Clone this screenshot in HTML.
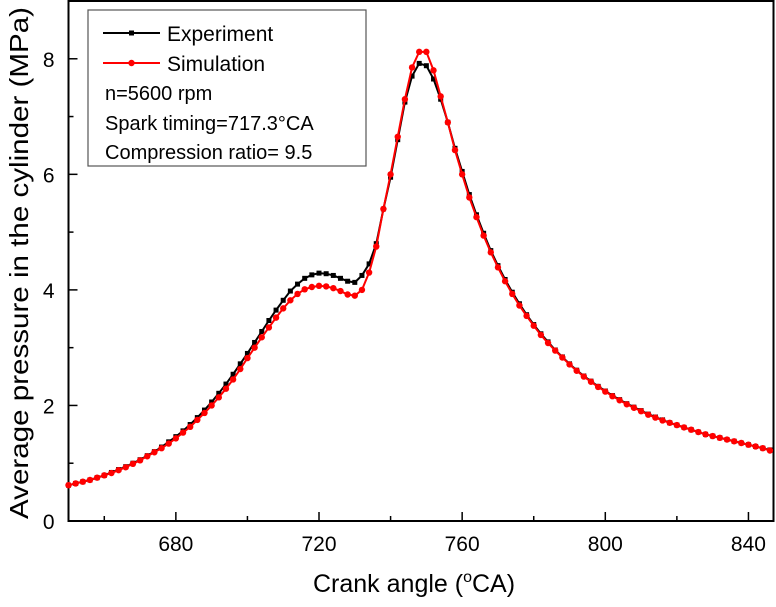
<!DOCTYPE html>
<html><head><meta charset="utf-8"><style>
html,body{margin:0;padding:0;background:#fff;}
svg text{font-family:"Liberation Sans",Arial,sans-serif;}
</style></head><body>
<svg id="chart" width="776" height="602" viewBox="0 0 776 602" xmlns="http://www.w3.org/2000/svg">
<g id="plot"></g>
</svg>
<script>
const angles = [650,652,654,656,658,660,662,664,666,668,670,672,674,676,678,680,682,684,686,688,690,692,694,696,698,700,702,704,706,708,710,712,714,716,718,720,722,724,726,728,730,732,734,736,738,740,742,744,746,748,750,752,754,756,758,760,762,764,766,768,770,772,774,776,778,780,782,784,786,788,790,792,794,796,798,800,802,804,806,808,810,812,814,816,818,820,822,824,826,828,830,832,834,836,838,840,842,844,846];
const experiment = [0.62,0.65,0.68,0.71,0.75,0.79,0.84,0.89,0.94,1.00,1.06,1.13,1.20,1.28,1.37,1.46,1.56,1.67,1.79,1.92,2.06,2.21,2.37,2.54,2.72,2.90,3.09,3.28,3.47,3.65,3.82,3.98,4.10,4.20,4.26,4.29,4.28,4.25,4.20,4.15,4.13,4.25,4.45,4.80,5.40,5.95,6.60,7.25,7.70,7.92,7.88,7.65,7.30,6.90,6.45,6.05,5.65,5.30,4.98,4.68,4.42,4.18,3.96,3.76,3.57,3.40,3.24,3.10,2.96,2.84,2.72,2.61,2.51,2.42,2.33,2.25,2.17,2.10,2.03,1.97,1.91,1.85,1.80,1.75,1.70,1.66,1.62,1.58,1.54,1.50,1.47,1.44,1.41,1.38,1.35,1.32,1.29,1.26,1.23];
const simulation = [0.62,0.65,0.68,0.71,0.75,0.79,0.83,0.88,0.93,0.99,1.05,1.12,1.19,1.26,1.34,1.43,1.53,1.63,1.75,1.87,2.00,2.14,2.29,2.45,2.63,2.82,3.00,3.18,3.35,3.52,3.68,3.82,3.93,4.01,4.05,4.07,4.06,4.03,3.98,3.92,3.90,4.00,4.30,4.75,5.40,6.00,6.65,7.30,7.85,8.12,8.12,7.80,7.35,6.90,6.42,6.00,5.60,5.26,4.94,4.65,4.39,4.15,3.93,3.73,3.55,3.38,3.22,3.08,2.95,2.83,2.71,2.60,2.50,2.41,2.32,2.24,2.16,2.09,2.02,1.96,1.90,1.84,1.79,1.74,1.70,1.66,1.62,1.58,1.54,1.50,1.47,1.44,1.41,1.38,1.35,1.32,1.29,1.26,1.22];
const xTicks = [680,720,760,800,840];
const xMinor = [660,700,740,780,820];
const yTicks = [0,2,4,6,8];
const yMinor = [1,3,5,7];

const L=68.5,R=773.5,T=1,B=521;
const X0=650,X1=847,Y0=0,Y1=9;
function sx(v){return L+(v-X0)/(X1-X0)*(R-L);}
function sy(v){return B-(v-Y0)/(Y1-Y0)*(B-T);}
const NS="http://www.w3.org/2000/svg";
const svg=document.getElementById('chart');
function mk(tag,attrs,parent){const e=document.createElementNS(NS,tag);for(const k in attrs)e.setAttribute(k,attrs[k]);(parent||svg).appendChild(e);return e;}

const frame=mk('rect',{x:L,y:T,width:R-L,height:B-T,fill:'none',stroke:'#000','stroke-width':2});



xTicks.forEach(v=>{
  const t=mk('line',{x1:sx(v),x2:sx(v),y1:B,y2:B-9,stroke:'#000','stroke-width':1.5});
  
  
  const l=mk('text',{x:sx(v),y:B+30,'font-size':21,'text-anchor':'middle',fill:'#000'});
  l.textContent=v;
  
  
});
xMinor.forEach(v=>{
  const t=mk('line',{x1:sx(v),x2:sx(v),y1:B,y2:B-5,stroke:'#000','stroke-width':1.5});
  
  
});
yTicks.forEach(v=>{
  const t=mk('line',{x1:L,x2:L+9,y1:sy(v),y2:sy(v),stroke:'#000','stroke-width':1.5});
  
  
  const l=mk('text',{x:L-14,y:sy(v)+8,'font-size':21,'text-anchor':'end',fill:'#000'});
  l.textContent=v;
  
  
});
yMinor.forEach(v=>{
  const t=mk('line',{x1:L,x2:L+5,y1:sy(v),y2:sy(v),stroke:'#000','stroke-width':1.5});
  
  
});

function series(vals,color,marker,name){
  const g=mk('g',{});
  
  
  const d=vals.map((v,i)=>(i?'L':'M')+sx(angles[i]).toFixed(2)+' '+sy(v).toFixed(2)).join(' ');
  const p=mk('path',{d:d,fill:'none',stroke:color,'stroke-width':2},g);
  
  
  vals.forEach((v,i)=>{
    let m;
    if(marker==='square'){m=mk('rect',{x:sx(angles[i])-2.5,y:sy(v)-2.5,width:5,height:5,fill:color},g);}
    else{m=mk('circle',{cx:sx(angles[i]),cy:sy(v),r:3.2,fill:color},g);}
    
    
  });
}
series(experiment,'#000','square','experiment-series');
series(simulation,'#f00','circle','simulation-series');

const lg=mk('g',{});


mk('rect',{x:88,y:10,width:278,height:156,fill:'#fff',stroke:'#555','stroke-width':1.2},lg);
const e1=mk('g',{},lg);


mk('line',{x1:103,x2:160,y1:33,y2:33,stroke:'#000','stroke-width':2},e1);
mk('rect',{x:129,y:30.5,width:5,height:5,fill:'#000'},e1);
const t1=mk('text',{x:167,y:41,'font-size':21,fill:'#000'},e1);t1.textContent='Experiment';
const e2=mk('g',{},lg);


mk('line',{x1:103,x2:160,y1:63,y2:63,stroke:'#f00','stroke-width':2},e2);
mk('circle',{cx:131.5,cy:63,r:3.2,fill:'#f00'},e2);
const t2=mk('text',{x:167,y:71,'font-size':21,fill:'#000'},e2);t2.textContent='Simulation';
[['n=5600 rpm',100,'legend-speed'],['Spark timing=717.3°CA',130,'legend-spark-timing'],['Compression ratio= 9.5',159,'legend-compression-ratio']].forEach(a=>{
  const t=mk('text',{x:105,y:a[1],'font-size':20,fill:'#000'},lg);
  t.textContent=a[0];
  
  
});

const xt=mk('text',{x:313,y:592,'font-size':25,fill:'#000'});


xt.innerHTML='Crank angle (<tspan font-size="16" dy="-10">o</tspan><tspan dy="10">CA)</tspan>';
const yt=mk('text',{x:0,y:0,'font-size':26,'text-anchor':'middle',fill:'#000',textLength:512,lengthAdjust:'spacingAndGlyphs',transform:'translate(28,263) rotate(-90)'});
yt.textContent='Average pressure in the cylinder (MPa)';


</script>
</body></html>
